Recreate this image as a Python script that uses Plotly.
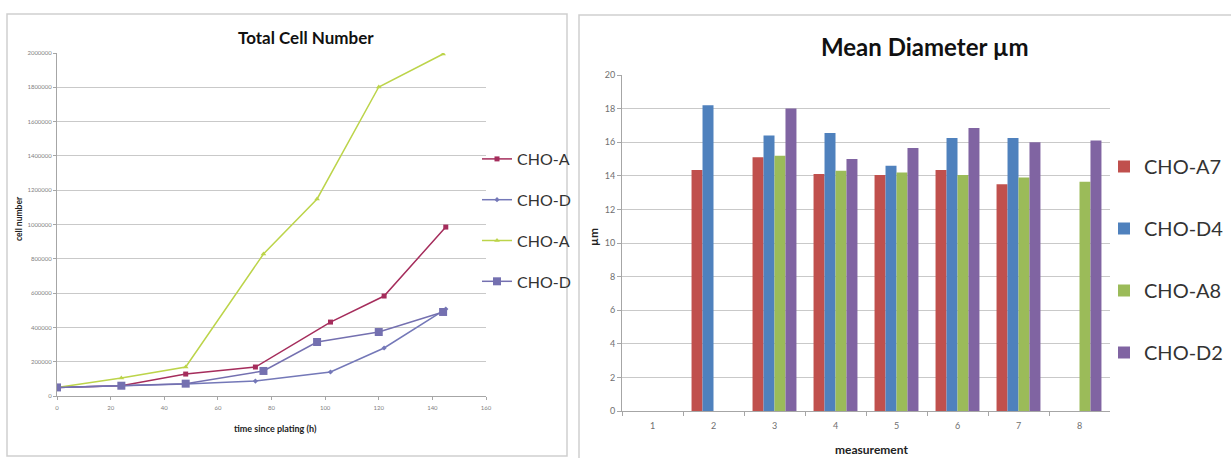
import plotly.graph_objects as go

# ---------------- data: Total Cell Number (left) ----------------
hours_a7 = [0, 24, 48, 74, 102, 122, 145]
cells_a7 = [50000, 60000, 128000, 169000, 431000, 583000, 985000]
hours_d4 = [0, 24, 48, 74, 102, 122, 145]
cells_d4 = [50000, 58000, 70000, 87000, 140000, 280000, 507000]
hours_a8 = [0, 24, 48, 77, 97, 120, 144]
cells_a8 = [50000, 105000, 169000, 828000, 1149000, 1802000, 1994000]
hours_d2 = [0, 24, 48, 77, 97, 120, 144]
cells_d2 = [50000, 60000, 72000, 146000, 315000, 373000, 490000]
left_names = ["CHO-A", "CHO-D", "CHO-A", "CHO-D"]

# ---------------- data: Mean Diameter (right) ----------------
measurements = ["1", "2", "3", "4", "5", "6", "7", "8"]
diam_a7 = [None, 14.35, 15.1, 14.1, 14.05, 14.35, 13.5, None]
diam_d4 = [None, 18.2, 16.4, 16.55, 14.6, 16.25, 16.25, None]
diam_a8 = [None, None, 15.2, 14.3, 14.2, 14.05, 13.9, 13.65]
diam_d2 = [None, None, 18.0, 15.0, 15.65, 16.85, 16.0, 16.1]
right_names = ["CHO-A7", "CHO-D4", "CHO-A8", "CHO-D2"]

FONT = "Lato"
W, H = 1231, 458

def px_x(p):
    return p / W

def px_y(p):
    return 1 - p / H

fig = go.Figure()

line_styles = [
    (hours_a7, cells_a7, "#a52d5c", "square", 5),
    (hours_d4, cells_d4, "#7478b8", "diamond", 4),
    (hours_a8, cells_a8, "#bcd44a", "triangle-up", 5),
    (hours_d2, cells_d2, "#7470b0", "square", 8),
]
for i, (xs, ys, col, sym, sz) in enumerate(line_styles):
    fig.add_trace(go.Scatter(
        x=xs, y=ys, mode="lines+markers", name=left_names[i],
        line=dict(color=col, width=1.5),
        marker=dict(symbol=sym, size=sz, color=col),
        xaxis="x", yaxis="y", legend="legend", legendgroup=f"l{i}",
    ))

bar_colors = ["#c0504d", "#4f81bd", "#9bbb59", "#8064a2"]
for i, vals in enumerate([diam_a7, diam_d4, diam_a8, diam_d2]):
    fig.add_trace(go.Bar(
        x=measurements, y=vals, name=right_names[i],
        marker=dict(color=bar_colors[i], line=dict(width=0)),
        xaxis="x2", yaxis="y2", legend="legend2", legendgroup=f"r{i}",
    ))

grid = "#c9c9c9"
tick_font_small = dict(family=FONT, size=6, color="#7f7f7f")
tick_font = dict(family=FONT, size=9, color="#6f6f6f")

def ann(text, x, y, size, angle=0, color="#222"):
    return dict(text=text, x=px_x(x), y=px_y(y), xref="paper", yref="paper",
                xanchor="center", yanchor="middle", showarrow=False, textangle=angle,
                font=dict(family=FONT, size=size, color=color))

fig.update_layout(
    width=W, height=H,
    margin=dict(l=0, r=0, t=0, b=0, autoexpand=False),
    paper_bgcolor="white", plot_bgcolor="white",
    barmode="group", bargap=0.28, bargroupgap=0,
    font=dict(family=FONT),
    xaxis=dict(
        domain=[px_x(57), px_x(486)], range=[0, 160], dtick=20,
        showgrid=False, zeroline=False, showline=True, linecolor="#a6a6a6",
        ticks="outside", ticklen=3, tickcolor="#a6a6a6", tickfont=tick_font_small,
        ticklabelstandoff=3, automargin=False, anchor="y",
    ),
    yaxis=dict(
        domain=[px_y(396), px_y(53)], range=[0, 2000000], dtick=200000, tickformat="d",
        showgrid=True, gridcolor=grid, zeroline=False, showline=True, linecolor="#a6a6a6",
        ticks="outside", ticklen=3, tickcolor="#a6a6a6", tickfont=tick_font_small,
        automargin=False, anchor="x",
    ),
    xaxis2=dict(
        domain=[px_x(622), px_x(1110)], type="category",
        showgrid=False, zeroline=False, showline=True, linecolor="#a6a6a6",
        ticks="outside", ticklen=4, tickcolor="#a6a6a6", tickson="boundaries",
        tickfont=tick_font, ticklabelstandoff=6, automargin=False, anchor="y2",
    ),
    yaxis2=dict(
        domain=[px_y(411), px_y(75)], range=[0, 20], dtick=2,
        showgrid=True, gridcolor=grid, zeroline=False, showline=True, linecolor="#a6a6a6",
        ticks="outside", ticklen=4, tickcolor="#a6a6a6", tickfont=tick_font,
        automargin=False, anchor="x2",
    ),
    legend=dict(
        x=px_x(477), y=px_y(142), xanchor="left", yanchor="top",
        font=dict(family=FONT, size=16, color="#333"),
        tracegroupgap=17, itemwidth=30, bgcolor="rgba(0,0,0,0)",
    ),
    legend2=dict(
        x=px_x(1104), y=px_y(147), xanchor="left", yanchor="top",
        font=dict(family=FONT, size=20, color="#333"),
        tracegroupgap=33, itemwidth=30, bgcolor="rgba(0,0,0,0)",
    ),
    annotations=[
        ann("<b>Total Cell Number</b>", 306, 37, 17, color="#111"),
        ann("<b>Mean Diameter µm</b>", 925, 46, 24, color="#111"),
        ann("<b>time since plating (h)</b>", 275, 428, 9),
        ann("<b>cell number</b>", 19, 219, 8.5, angle=-90),
        ann("<b>measurement</b>", 871, 449, 12),
        ann("<b>µm</b>", 593, 237, 12, angle=-90),
    ],
    shapes=[
        dict(type="rect", xref="paper", yref="paper", x0=px_x(7), x1=px_x(567), y0=px_y(456), y1=px_y(14),
             line=dict(color="#cfcfcf", width=1.5), fillcolor="rgba(0,0,0,0)", layer="below"),
        dict(type="rect", xref="paper", yref="paper", x0=px_x(579), x1=px_x(1240), y0=px_y(465), y1=px_y(15),
             line=dict(color="#cfcfcf", width=1.5), fillcolor="rgba(0,0,0,0)", layer="below"),
    ],
)

fig.write_html("out.html")
